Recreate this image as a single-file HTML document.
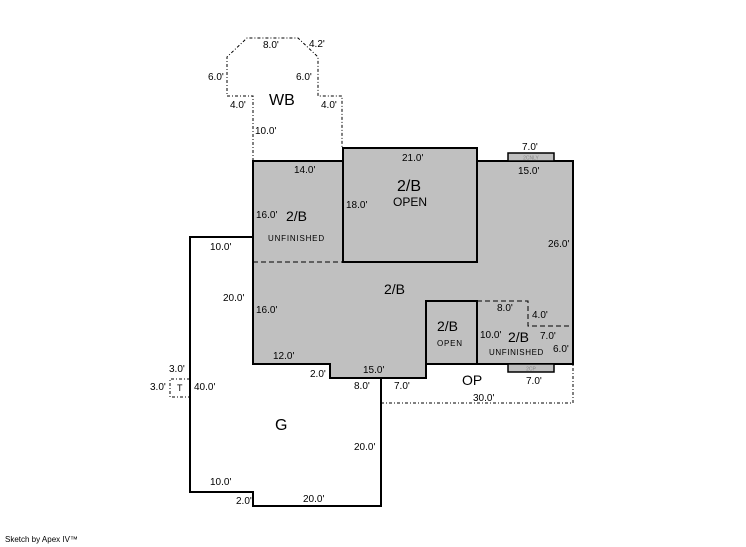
<!DOCTYPE html>
<html><head><meta charset="utf-8"><style>
html,body{margin:0;padding:0;background:#fff;}
svg{display:block;}
text{font-family:"Liberation Sans",Arial,sans-serif;fill:#000;}
.s{font-size:10px;}
</style></head><body>
<svg width="746" height="547" viewBox="0 0 746 547" xmlns="http://www.w3.org/2000/svg">
<!-- WB dash-dot outline -->
<polyline points="253,161 253,96 227,96 227,57 247,38 298,38 318,57 318,96 342,96 342,148" fill="none" stroke="#000" stroke-width="1" stroke-dasharray="3,2,1,2"/>
<!-- OP dash-dot -->
<polyline points="381,403 573,403 573,364" fill="none" stroke="#000" stroke-width="1" stroke-dasharray="3,2,1,2"/>
<!-- T box -->
<polyline points="190,379 170,379 170,397 190,397" fill="none" stroke="#000" stroke-width="1" stroke-dasharray="3,2,1,2"/>
<!-- main gray -->
<polygon points="253,161 573,161 573,364 426,364 426,378 330,378 330,364 253,364" fill="#c0c0c0" stroke="#000" stroke-width="2"/>
<!-- bumps -->
<rect x="508" y="153" width="46" height="8" fill="#c0c0c0" stroke="#000" stroke-width="1.5"/>
<rect x="508" y="364" width="46" height="8" fill="#c0c0c0" stroke="#000" stroke-width="1.5"/>
<text x="531" y="159.5" font-size="5" text-anchor="middle" fill="#888" style="fill:#888">2CNLY</text>
<text x="531" y="370.5" font-size="5" text-anchor="middle" style="fill:#888">2CP</text>
<!-- open room -->
<rect x="343" y="148" width="134" height="114" fill="#c0c0c0" stroke="#000" stroke-width="2"/>
<line x1="253" y1="262" x2="343" y2="262" stroke="#000" stroke-width="1" stroke-dasharray="5,3"/>
<!-- small open room -->
<rect x="426" y="301" width="51" height="63" fill="#c0c0c0" stroke="#000" stroke-width="2"/>
<polyline points="477,301 528,301 528,326 573,326" fill="none" stroke="#000" stroke-width="1" stroke-dasharray="5,3"/>
<!-- garage -->
<polyline points="253,237 190,237 190,492 253,492 253,506 381,506 381,378" fill="none" stroke="#000" stroke-width="2"/>

<!-- labels -->
<text class="s" x="263" y="48">8.0'</text>
<text class="s" x="309" y="47">4.2'</text>
<text class="s" x="208" y="80">6.0'</text>
<text class="s" x="296" y="80">6.0'</text>
<text class="s" x="230" y="108">4.0'</text>
<text class="s" x="321" y="108">4.0'</text>
<text x="269" y="105" font-size="16">WB</text>
<text class="s" x="255" y="134">10.0'</text>
<text class="s" x="294" y="173">14.0'</text>
<text class="s" x="402" y="161">21.0'</text>
<text class="s" x="522" y="150">7.0'</text>
<text class="s" x="518" y="174">15.0'</text>
<text x="397" y="191" font-size="16">2/B</text>
<text x="393" y="206" font-size="12">OPEN</text>
<text class="s" x="346" y="208">18.0'</text>
<text class="s" x="256" y="218">16.0'</text>
<text x="286" y="221" font-size="14">2/B</text>
<text x="268" y="241" font-size="8" letter-spacing="0.8">UNFINISHED</text>
<text class="s" x="210" y="250">10.0'</text>
<text class="s" x="548" y="247">26.0'</text>
<text x="384" y="294" font-size="14">2/B</text>
<text class="s" x="223" y="301">20.0'</text>
<text class="s" x="256" y="313">16.0'</text>
<text class="s" x="497" y="311">8.0'</text>
<text class="s" x="532" y="318">4.0'</text>
<text x="437" y="331" font-size="14">2/B</text>
<text x="437" y="346" font-size="8" letter-spacing="0.8">OPEN</text>
<text class="s" x="480" y="338">10.0'</text>
<text x="508" y="342" font-size="14">2/B</text>
<text class="s" x="540" y="339">7.0'</text>
<text x="489" y="355" font-size="8" letter-spacing="0.6">UNFINISHED</text>
<text class="s" x="553" y="352">6.0'</text>
<text class="s" x="273" y="359">12.0'</text>
<text class="s" x="310" y="377">2.0'</text>
<text class="s" x="363" y="373">15.0'</text>
<text class="s" x="169" y="372">3.0'</text>
<text class="s" x="150" y="390">3.0'</text>
<text x="177" y="391" font-size="9">T</text>
<text class="s" x="194" y="390">40.0'</text>
<text class="s" x="354" y="389">8.0'</text>
<text class="s" x="394" y="389">7.0'</text>
<text x="462" y="385" font-size="14">OP</text>
<text class="s" x="526" y="384">7.0'</text>
<text class="s" x="473" y="401">30.0'</text>
<text x="275" y="430" font-size="16">G</text>
<text class="s" x="354" y="450">20.0'</text>
<text class="s" x="210" y="485">10.0'</text>
<text class="s" x="236" y="504">2.0'</text>
<text class="s" x="303" y="502">20.0'</text>
<text x="5" y="542" font-size="8">Sketch by Apex IV™</text>
</svg>
</body></html>
